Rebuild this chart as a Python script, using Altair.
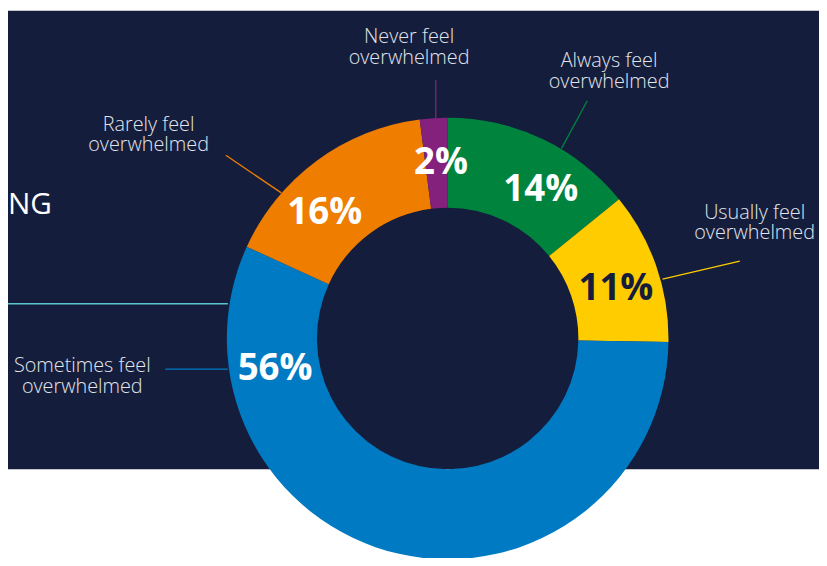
import altair as alt
import pandas as pd

# ---- data ----
categories = ["Always", "Usually", "Sometimes", "Rarely", "Never"]
values = [14, 11, 56, 16, 2]
pct_text = ["14%", "11%", "56%", "16%", "2%"]
outer_text = [
    "Always feel\noverwhelmed",
    "Usually feel\noverwhelmed",
    "Sometimes feel\noverwhelmed",
    "Rarely feel\noverwhelmed",
    "Never feel\noverwhelmed",
]
colors = ["#00843D", "#FFCC00", "#007BC3", "#EF7D00", "#84217C"]
title_fragment = "NG"

# ---- layout / style (kept apart from the data) ----
NAVY = "#141E3C"
W, H = 819, 550
CX, CY = 444, 331
R_OUT, R_IN, R_LAB = 223, 132, 177
BAND_BOTTOM = 463
label_frac = [0.63, 0.57, 0.83, 0.36, 0.70]
# position of the first line of each callout
callout_xy = [(607, 51), (754, 204), (75, 359), (142, 115), (405, 27)]
callout_line = [
    (585, 91, 559, 139),
    (739, 253, 661, 271),
    (159, 362, 222, 362),
    (220, 146, 276, 184),
    (432, 70, 432, 109),
]

total = sum(values)
starts = [sum(values[:i]) for i in range(len(values))]
df = pd.DataFrame({
    "cat": categories,
    "value": values,
    "order": list(range(len(values))),
    "pct": pct_text,
    "lab_theta": [s + f * v for s, f, v in zip(starts, label_frac, values)],
    "outer": outer_text,
    "tx": [p[0] for p in callout_xy],
    "ty": [p[1] for p in callout_xy],
    "lx1": [l[0] for l in callout_line],
    "ly1": [l[1] for l in callout_line],
    "lx2": [l[2] for l in callout_line],
    "ly2": [l[3] for l in callout_line],
})

color_scale = alt.Scale(domain=categories, range=colors)
theta_scale = alt.Scale(domain=[0, total])

one = pd.DataFrame({"t": [title_fragment]})

band = alt.Chart(one).mark_rect(color=NAVY).encode(
    x=alt.value(0), x2=alt.value(W), y=alt.value(0), y2=alt.value(BAND_BOTTOM)
)

cyan = alt.Chart(one).mark_rule(color="#5BC5CE", strokeWidth=1.5).encode(
    x=alt.value(0), x2=alt.value(222), y=alt.value(296)
)

title_txt = alt.Chart(one).mark_text(
    align="left", baseline="alphabetic", font="Open Sans", fontSize=30, color="white"
).encode(x=alt.value(0), y=alt.value(205), text="t:N")

donut = alt.Chart(df).mark_arc(radius=R_OUT, radius2=R_IN).encode(
    theta=alt.Theta("value:Q", stack=True, scale=theta_scale),
    order=alt.Order("order:Q"),
    color=alt.Color("cat:N", scale=color_scale, legend=None),
    x=alt.value(CX),
    y=alt.value(CY),
)

pct = alt.Chart(df).mark_text(
    radius=R_LAB, font="Open Sans", fontWeight="bold", fontSize=37,
    align="center", baseline="middle",
).encode(
    theta=alt.Theta("lab_theta:Q", stack=None, scale=theta_scale),
    text="pct:N",
    color=alt.condition(alt.datum.cat == "Usually", alt.value(NAVY), alt.value("white")),
    x=alt.value(CX),
    y=alt.value(CY),
)

leaders = alt.Chart(df).mark_rule(strokeWidth=1.3).encode(
    x=alt.X("lx1:Q", scale=None),
    y=alt.Y("ly1:Q", scale=None),
    x2="lx2:Q",
    y2="ly2:Q",
    color=alt.Color("cat:N", scale=color_scale, legend=None),
)

callouts = alt.Chart(df).mark_text(
    font="Open Sans", fontWeight=300, fontSize=20, lineHeight=21,
    lineBreak="\n", align="center", baseline="middle", color="#E2E5EC",
).encode(
    x=alt.X("tx:Q", scale=None),
    y=alt.Y("ty:Q", scale=None),
    text="outer:N",
)

chart = alt.layer(band, cyan, title_txt, donut, pct, leaders, callouts).properties(
    width=W, height=H, autosize=alt.AutoSizeParams(type="none"), padding=0,
    background="white",
).configure_view(stroke=None)

chart.save("out.html", embed_options={"renderer": "svg", "actions": False})
